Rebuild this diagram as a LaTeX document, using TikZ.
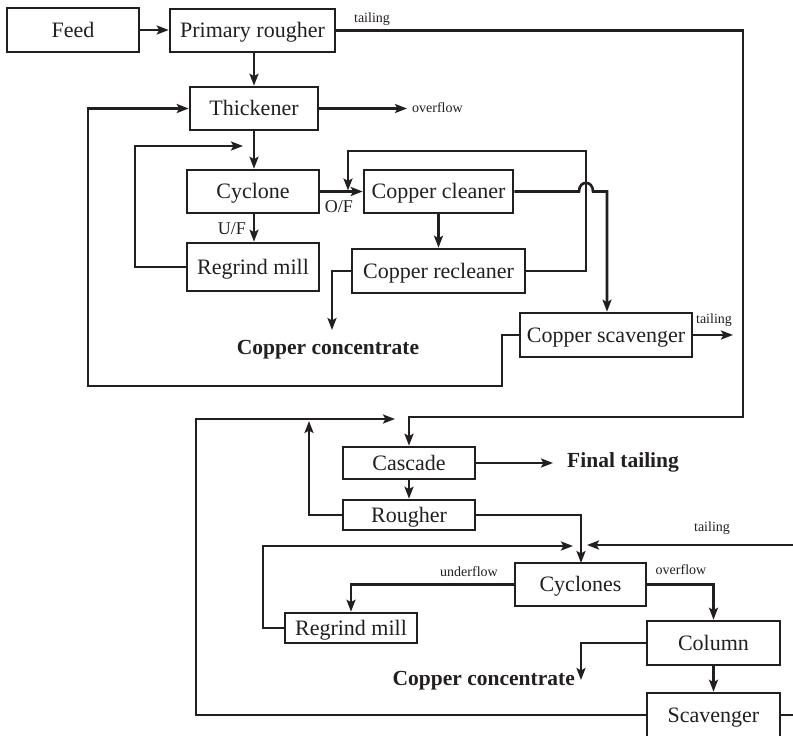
\documentclass[tikz,border=0pt]{standalone}
\usepackage{fontspec}
\setmainfont{Liberation Serif}
\usetikzlibrary{arrows.meta}
\definecolor{ink}{HTML}{231F20}
\tikzset{
  x=1pt, y=-1pt,
  box/.style={draw=ink, line width=2.6pt, inner sep=0pt, text=ink,
    text height=18pt, text depth=4pt,
    font=\fontsize{22}{26}\selectfont},
  flow/.style={draw=ink, line width=2.6pt, -{Stealth[length=12pt,width=9pt,inset=2.5pt]}},
  line/.style={draw=ink, line width=2.6pt},
  small/.style={text=ink, font=\fontsize{14}{16}\selectfont, inner sep=0pt},
  mid/.style={text=ink, font=\fontsize{18}{20}\selectfont, inner sep=0pt},
  big/.style={text=ink, font=\fontsize{21.5}{25}\selectfont\bfseries, inner sep=0pt},
}
\begin{document}
\begin{tikzpicture}
\clip (0,0) rectangle (793,736);
\fill[white] (0,0) rectangle (793,736);
% top nodes
\node[box, minimum width=132pt, minimum height=44pt] (feed) at (73,30) {Feed};
\node[box, minimum width=165pt, minimum height=43pt] (pr) at (252.5,30.5) {Primary rougher};
\node[box, minimum width=128pt, minimum height=43pt] (thick) at (254,108.5) {Thickener};
\node[box, minimum width=132pt, minimum height=43pt] (cyc) at (253,191.5) {Cyclone};
\node[box, minimum width=132pt, minimum height=48pt] (rgm) at (253,267) {Regrind mill};
\node[box, minimum width=149pt, minimum height=43pt] (cc) at (438.5,191.5) {Copper cleaner};
\node[box, minimum width=173pt, minimum height=44pt] (crc) at (438.5,271) {Copper recleaner};
\node[box, minimum width=172pt, minimum height=44pt] (cs) at (606,335) {Copper scavenger};
% bottom nodes
\node[box, minimum width=132pt, minimum height=32pt] (casc) at (409,463) {Cascade};
\node[box, minimum width=132pt, minimum height=30pt] (rough) at (409,515) {Rougher};
\node[box, minimum width=131pt, minimum height=43pt] (cycs) at (580.5,584.5) {Cyclones};
\node[box, minimum width=132pt, minimum height=30pt] (rgmb) at (351,628) {Regrind mill};
\node[box, minimum width=133pt, minimum height=44pt] (col) at (713.5,643) {Column};
\node[box, minimum width=133pt, minimum height=44pt] (scav) at (713.5,715) {Scavenger};
% free ends
\coordinate (ovf) at (407,108.5);
\coordinate (cstail) at (733,335);
\coordinate (conc1) at (332,330);
\coordinate (fin) at (553,463);
\coordinate (rin) at (793,545);
\coordinate (rout) at (793,715);
\coordinate (conc2) at (581,680);
% labels
\node[small] (lt1) at (372,19) {tailing};
\node[small, anchor=west] (lov) at (412,108) {overflow};
\node[mid] (luf) at (232,229) {U/F};
\node[mid] (lof) at (339,207) {O/F};
\node[small] (lt2) at (714,320) {tailing};
\node[big] (cc1) at (328,350) {Copper concentrate};
\node[big, anchor=west] (ft) at (567,462) {Final tailing};
\node[small] (lt3) at (712,528) {tailing};
\node[small] (luf2) at (469,572) {underflow};
\node[small] (lof2) at (681,570) {overflow};
\node[big, anchor=east] (cc2) at (575,681) {Copper concentrate};
% top connectors
\draw[flow] (feed.east) -- (pr.west |- feed.east);
\draw[flow] (pr.east) -- (743,30.5) -- (743,417) -- (casc.north |- 0,417) -- (casc.north);
\draw[flow] (thick.north |- pr.south) -- (thick.north);
\draw[flow] (thick.east) -- (ovf);
\draw[flow] (thick.south) -- (thick.south |- cyc.north);
\draw[flow] (cyc.south -| thick.south) -- (rgm.north -| thick.south);
\draw[flow] (rgm.west) -- (135,267) -- (135,146) -- (243,146);
\draw[flow] (cyc.east) -- (cc.west);
\draw[flow] (cc.south) -- (crc.north);
\draw[flow] (crc.east) -- (586,271) -- (586,151) -- (348,151) -- (348,190.5);
\draw[flow] (cc.east) -- (579,191.5) .. controls (579,180) and (593,180) .. (593,191.5) -- (607,191.5) -- (cs.north -| 607,0);
\draw[flow] (cs.west) -- (502,335) -- (502,386) -- (88,386) -- (88,108.5) -- (thick.west);
\draw[flow] (cs.east) -- (cstail);
\draw[flow] (crc.west) -- (332,271) -- (conc1);
% bottom connectors
\draw[flow] (casc.south) -- (rough.north);
\draw[flow] (casc.east) -- (fin);
\draw[flow] (rough.west) -- (309,515) -- (309,421);
\draw[flow] (scav.west) -- (196,715) -- (196,419) -- (395,419);
\draw[flow] (rough.east) -- (581,515) -- (581,563);
\draw[flow] (rgmb.west) -- (263,628) -- (263,546) -- (573,546);
\draw[flow] (rin) -- (587,545);
\draw[flow] (cycs.west) -- (351,584.5) -- (rgmb.north);
\draw[flow] (cycs.east) -- (713.5,584.5) -- (col.north);
\draw[flow] (col.west) -- (581,643) -- (conc2);
\draw[flow] (col.south) -- (scav.north);
\draw[line] (scav.east) -- (rout);
\end{tikzpicture}
\end{document}
